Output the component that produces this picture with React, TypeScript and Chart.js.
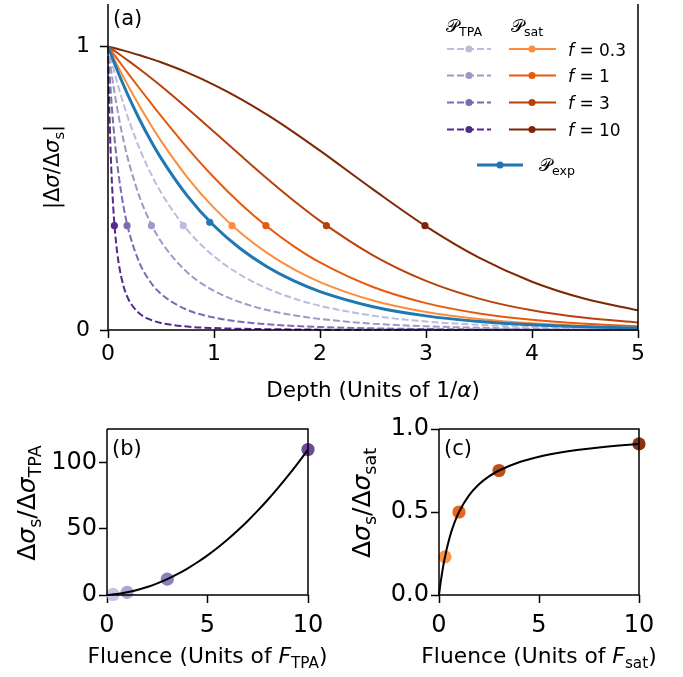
import React, { useEffect, useRef } from "react";
import { Chart, registerables } from "chart.js";
Chart.register(...registerables);

// ---------------- data ----------------
const F_VALUES = [0.3, 1, 3, 10];
const F_LABELS = ["0.3", "1", "3", "10"];

const DEPTH = [0, 0.025, 0.05, 0.1, 0.15, 0.2, 0.3, 0.4, 0.5, 0.75, 1, 1.25, 1.5, 1.75, 2, 2.5, 3, 3.5, 4, 4.5, 5];
const DEPTH_FINE = [0, 0.01, 0.025, 0.05, 0.075, 0.1, 0.15, 0.2, 0.3, 0.4, 0.5, 0.75, 1, 1.25, 1.5, 1.75, 2, 2.5, 3, 3.5, 4, 4.5, 5];

const EXP_PROFILE = [1, 0.9753, 0.9512, 0.9048, 0.8607, 0.8187, 0.7408, 0.6703, 0.6065, 0.4724, 0.3679, 0.2865, 0.2231, 0.1738, 0.1353, 0.0821, 0.0498, 0.0302, 0.0183, 0.0111, 0.0067];

const TPA_F03 = [1, 0.961, 0.924, 0.8553, 0.7931, 0.7365, 0.6378, 0.5551, 0.4852, 0.3521, 0.2599, 0.1944, 0.1468, 0.1116, 0.0853, 0.0505, 0.0301, 0.0181, 0.0109, 0.0066, 0.004];
const TPA_F1 = [1, 0.9289, 0.8648, 0.7544, 0.6631, 0.5868, 0.4672, 0.3791, 0.3124, 0.2024, 0.1381, 0.0976, 0.0707, 0.0521, 0.0389, 0.0223, 0.0131, 0.0078, 0.0047, 0.0028, 0.0017];
const TPA_F3 = [1, 0.9335, 0.8454, 0.7239, 0.6266, 0.5476, 0.4281, 0.3435, 0.2345, 0.1694, 0.1276, 0.0708, 0.0439, 0.029, 0.0201, 0.0144, 0.0105, 0.0058, 0.0034, 0.002, 0.0012, 0.0007, 0.0004];
const TPA_F10 = [1, 0.819, 0.6273, 0.4298, 0.3127, 0.2376, 0.1503, 0.1035, 0.0574, 0.0363, 0.0249, 0.012, 0.0069, 0.0043, 0.0029, 0.002, 0.0013, 0.0008, 0.0005, 0.0003, 0.0002, 0.0001, 0.0001];

const SAT_F03 = [1, 0.9809, 0.9621, 0.9252, 0.8893, 0.8545, 0.788, 0.7255, 0.6671, 0.5379, 0.4307, 0.343, 0.2719, 0.2147, 0.1691, 0.1041, 0.0638, 0.0389, 0.0237, 0.0144, 0.0087];
const SAT_F1 = [1, 0.9875, 0.975, 0.95, 0.9251, 0.9003, 0.8511, 0.8026, 0.7551, 0.6416, 0.5379, 0.4454, 0.3649, 0.2961, 0.2384, 0.1517, 0.0949, 0.0586, 0.036, 0.022, 0.0134];
const SAT_F3 = [1, 0.9937, 0.9873, 0.9744, 0.9611, 0.9476, 0.9196, 0.8905, 0.8605, 0.7817, 0.6995, 0.6163, 0.5346, 0.4569, 0.385, 0.2635, 0.1733, 0.1108, 0.0694, 0.043, 0.0264];
const SAT_F10 = [1, 0.9977, 0.9954, 0.9905, 0.9855, 0.9803, 0.9692, 0.9572, 0.9443, 0.9078, 0.8649, 0.8154, 0.7596, 0.6982, 0.6326, 0.4959, 0.3656, 0.2551, 0.1703, 0.11, 0.0694];

const MARKER_LEVEL = 0.368;
const TPA_MARKER_DEPTH = [0.71, 0.41, 0.18, 0.06];
const SAT_MARKER_DEPTH = [1.17, 1.49, 2.06, 2.99];
const EXP_MARKER_DEPTH = 0.96;
const EXP_MARKER_LEVEL = 0.38;

const FLUENCE_B = [0, 0.5, 1, 1.5, 2, 2.5, 3, 3.5, 4, 4.5, 5, 5.5, 6, 6.5, 7, 7.5, 8, 8.5, 9, 9.5, 10];
const CURVE_B = [0, 0.75, 2, 3.75, 6, 8.75, 12, 15.75, 20, 24.75, 30, 35.75, 42, 48.75, 56, 63.75, 72, 80.75, 90, 99.75, 110];
const POINTS_B = [0.4, 2, 12, 110];

const FLUENCE_C = [0, 0.05, 0.1, 0.25, 0.5, 0.75, 1, 1.5, 2, 2.5, 3, 4, 5, 6, 7, 8, 9, 10];
const CURVE_C = [0, 0.0476, 0.0909, 0.2, 0.3333, 0.4286, 0.5, 0.6, 0.6667, 0.7143, 0.75, 0.8, 0.8333, 0.8571, 0.875, 0.8889, 0.9, 0.9091];
const POINTS_C = [0.23, 0.5, 0.75, 0.91];

const TICKS_A_X = [0, 1, 2, 3, 4, 5];
const TICKS_A_Y = [0, 1];
const TICKS_B_Y = [0, 50, 100];
const TICKS_C_Y = [0, 0.5, 1];
const TICKS_BC_X = [0, 5, 10];

const TPA_COLORS = ["#bcbddc", "#9e9ac8", "#7c6bb3", "#56298f"];
const SAT_COLORS = ["#fd8d3c", "#e8590c", "#b8420a", "#7f2704"];
const EXP_COLOR = "#1f77b4";

// ---------------- helpers ----------------
const W = 683;
const H = 677;
const FONT = '"DejaVu Sans", "DejaVu Serif", "Noto Sans", sans-serif';
const FS = 21;

type Seg = { t: string; it?: boolean; sub?: boolean };

function fontOf(s: Seg, size: number) {
  return `${s.it ? "italic " : ""}${s.sub ? size * 0.7 : size}px ${FONT}`;
}

function drawRich(ctx: CanvasRenderingContext2D, segs: Seg[], x: number, y: number, size: number, align: "left" | "center", rotate = false) {
  ctx.save();
  ctx.translate(x, y);
  if (rotate) ctx.rotate(-Math.PI / 2);
  const widths = segs.map((s) => {
    ctx.font = fontOf(s, size);
    return ctx.measureText(s.t).width;
  });
  const total = widths.reduce((a, b) => a + b, 0);
  let cx = align === "center" ? -total / 2 : 0;
  ctx.textAlign = "left";
  ctx.textBaseline = "alphabetic";
  ctx.fillStyle = "#000";
  segs.forEach((s, i) => {
    ctx.font = fontOf(s, size);
    ctx.fillText(s.t, cx, s.sub ? size * 0.22 : 0);
    cx += widths[i];
  });
  ctx.restore();
}

const pts = (xs: number[], ys: number[]) => xs.map((x, i) => ({ x, y: ys[i] }));

const fitX = (h: number) => (s: any) => {
  s.height = h;
  s.paddingLeft = 0;
  s.paddingRight = 0;
};
const fitY = (w: number) => (s: any) => {
  s.width = w;
  s.paddingTop = 0;
  s.paddingBottom = 0;
};

function axis(min: number, max: number, ticks: number[], horizontal: boolean, size: number, pad: number, fontSize: number, fmt: (v: number) => string) {
  return {
    type: "linear",
    min,
    max,
    afterFit: horizontal ? fitX(size) : fitY(size),
    afterBuildTicks: (s: any) => {
      s.ticks = ticks.map((v) => ({ value: v }));
    },
    ticks: {
      font: { family: FONT, size: fontSize },
      color: "#000",
      padding: pad,
      maxRotation: 0,
      autoSkip: false,
      callback: (v: any) => fmt(Number(v)),
    },
    grid: { display: true, drawOnChartArea: false, drawTicks: true, tickLength: 8, tickWidth: 1.5, tickColor: "#000" },
    border: { display: false },
  };
}

function spines(ctx: CanvasRenderingContext2D, a: any, top: boolean) {
  ctx.save();
  ctx.strokeStyle = "#000";
  ctx.lineWidth = 1.5;
  ctx.beginPath();
  ctx.moveTo(a.left, a.top);
  ctx.lineTo(a.left, a.bottom);
  ctx.lineTo(a.right, a.bottom);
  ctx.lineTo(a.right, a.top);
  if (top) ctx.lineTo(a.left, a.top);
  ctx.stroke();
  ctx.restore();
}

function dot(ctx: CanvasRenderingContext2D, x: number, y: number, r: number, color: string) {
  ctx.beginPath();
  ctx.arc(x, y, r, 0, Math.PI * 2);
  ctx.fillStyle = color;
  ctx.fill();
}

const P_CAL = "\u{1D4AB}";

// ---------------- chart configs ----------------
function configA(): any {
  const markers = [
    ...TPA_MARKER_DEPTH.map((x) => ({ x, y: MARKER_LEVEL })),
    ...SAT_MARKER_DEPTH.map((x) => ({ x, y: MARKER_LEVEL })),
    { x: EXP_MARKER_DEPTH, y: EXP_MARKER_LEVEL },
  ];
  const markerColors = [...TPA_COLORS, ...SAT_COLORS, EXP_COLOR];
  const line = (data: any, color: string, width: number, dash: number[] = []) => ({
    data,
    showLine: true,
    borderColor: color,
    borderWidth: width,
    borderDash: dash,
    pointRadius: 0,
    cubicInterpolationMode: "monotone",
    clip: false,
  });
  const tpaSeries = [TPA_F03, TPA_F1, TPA_F3, TPA_F10];
  const tpaDepths = [DEPTH, DEPTH, DEPTH_FINE, DEPTH_FINE];
  const satSeries = [SAT_F03, SAT_F1, SAT_F3, SAT_F10];
  const datasets = [
    { data: markers, pointRadius: 3.6, pointBorderWidth: 0, pointBackgroundColor: markerColors, showLine: false, clip: false },
    line(pts(DEPTH, EXP_PROFILE), EXP_COLOR, 3),
    ...satSeries.map((s, i) => line(pts(DEPTH, s), SAT_COLORS[i], 2)),
    ...tpaSeries.map((s, i) => line(pts(tpaDepths[i], s), TPA_COLORS[i], 2, [7, 3])),
  ];
  const LFS = 17;
  const plugin = {
    id: "decorA",
    afterDatasetsDraw(chart: any) {
      const { ctx, chartArea: a } = chart;
      spines(ctx, a, false);
      drawRich(ctx, [{ t: "(a)" }], 113, 25, FS, "left");
      drawRich(ctx, [{ t: "Depth (Units of 1/" }, { t: "\u03B1", it: true }, { t: ")" }], (a.left + a.right) / 2, 397, 21.5, "center");
      drawRich(ctx, [{ t: "|\u0394" }, { t: "\u03C3", it: true }, { t: "/\u0394" }, { t: "\u03C3", it: true }, { t: "s", sub: true }, { t: "|" }], 59, (a.top + a.bottom) / 2, FS, "center", true);
      // legend
      drawRich(ctx, [{ t: P_CAL }, { t: "TPA", sub: true }], 446, 32, 18, "left");
      drawRich(ctx, [{ t: P_CAL }, { t: "sat", sub: true }], 511, 32, 18, "left");
      const rows = [49, 75.5, 102.5, 129.5];
      rows.forEach((y, i) => {
        ctx.save();
        ctx.lineWidth = 2;
        ctx.strokeStyle = TPA_COLORS[i];
        ctx.setLineDash([7, 3]);
        ctx.beginPath();
        ctx.moveTo(447, y);
        ctx.lineTo(491, y);
        ctx.stroke();
        ctx.setLineDash([]);
        dot(ctx, 469, y, 3.6, TPA_COLORS[i]);
        ctx.strokeStyle = SAT_COLORS[i];
        ctx.beginPath();
        ctx.moveTo(509, y);
        ctx.lineTo(556, y);
        ctx.stroke();
        dot(ctx, 532, y, 3.6, SAT_COLORS[i]);
        ctx.restore();
        drawRich(ctx, [{ t: "f", it: true }, { t: " = " + F_LABELS[i] }], 568, y + 6.5, LFS, "left");
      });
      ctx.save();
      ctx.lineWidth = 3;
      ctx.strokeStyle = EXP_COLOR;
      ctx.beginPath();
      ctx.moveTo(477, 165);
      ctx.lineTo(523, 165);
      ctx.stroke();
      dot(ctx, 500, 165, 3.6, EXP_COLOR);
      ctx.restore();
      drawRich(ctx, [{ t: P_CAL }, { t: "exp", sub: true }], 539, 171, 18, "left");
    },
  };
  return {
    type: "scatter",
    data: { datasets },
    options: {
      animation: false,
      responsive: false,
      devicePixelRatio: 1,
      events: [],
      layout: { padding: { left: 8, right: W - 638, top: 0, bottom: H - 330 - 40 } },
      plugins: { legend: { display: false }, tooltip: { enabled: false } },
      scales: {
        x: axis(0, 5, TICKS_A_X, true, 40, 3, 22, (v) => String(v)),
        y: axis(0, 1.15, TICKS_A_Y, false, 100, 10, 22, (v) => String(v)),
      },
    },
    plugins: [plugin],
  };
}

function configSmall(which: "b" | "c"): any {
  const isB = which === "b";
  const left = isB ? 107 : 439;
  const right = isB ? 308 : 639;
  const colors = isB ? TPA_COLORS : SAT_COLORS;
  const datasets = [
    {
      data: isB ? pts(FLUENCE_B, CURVE_B) : pts(FLUENCE_C, CURVE_C),
      showLine: true,
      borderColor: "#000",
      borderWidth: 2,
      pointRadius: 0,
      cubicInterpolationMode: "monotone",
      clip: false,
    },
    {
      data: pts(F_VALUES, isB ? POINTS_B : POINTS_C),
      showLine: false,
      pointRadius: 6.6,
      pointBorderWidth: 0,
      pointBackgroundColor: colors.map((c) => c + (isB ? "dd" : "ee")),
      clip: false,
    },
  ];
  const plugin = {
    id: "decor" + which,
    afterDatasetsDraw(chart: any) {
      const { ctx, chartArea: a } = chart;
      spines(ctx, a, true);
      drawRich(ctx, [{ t: isB ? "(b)" : "(c)" }], a.left + 5, 455, FS, "left");
      const sub = isB ? "TPA" : "sat";
      drawRich(ctx, [{ t: "Fluence (Units of " }, { t: "F", it: true }, { t: sub, sub: true }, { t: ")" }], (a.left + a.right) / 2, 663, 21.8, "center");
      drawRich(
        ctx,
        [{ t: "\u0394" }, { t: "\u03C3", it: true }, { t: "s", sub: true }, { t: "/\u0394" }, { t: "\u03C3", it: true }, { t: sub, sub: true }],
        isB ? 35 : 370,
        503,
        25,
        "center",
        true
      );
    },
  };
  return {
    type: "scatter",
    data: { datasets },
    options: {
      animation: false,
      responsive: false,
      devicePixelRatio: 1,
      events: [],
      layout: { padding: { left: left - 100, right: W - right, top: 429, bottom: H - 595 - 40 } },
      plugins: { legend: { display: false }, tooltip: { enabled: false } },
      scales: {
        x: axis(0, 10, TICKS_BC_X, true, 40, 8, 24, (v) => String(v)),
        y: isB
          ? axis(0, 125.5, TICKS_B_Y, false, 100, 2, 24, (v) => String(v))
          : axis(0, 1, TICKS_C_Y, false, 100, 2, 24, (v) => v.toFixed(1)),
      },
    },
    plugins: [plugin],
  };
}

function ChartCanvas({ make }: { make: () => any }) {
  const ref = useRef<HTMLCanvasElement | null>(null);
  useEffect(() => {
    if (!ref.current) return;
    const chart = new Chart(ref.current, make());
    return () => chart.destroy();
  }, []);
  return <canvas ref={ref} width={W} height={H} style={{ position: "absolute", left: 0, top: 0, width: W, height: H }} />;
}

export default function App() {
  return (
    <div style={{ position: "absolute", left: 0, top: 0, width: W, height: H, background: "#fff" }}>
      <ChartCanvas make={configA} />
      <ChartCanvas make={() => configSmall("b")} />
      <ChartCanvas make={() => configSmall("c")} />
    </div>
  );
}
